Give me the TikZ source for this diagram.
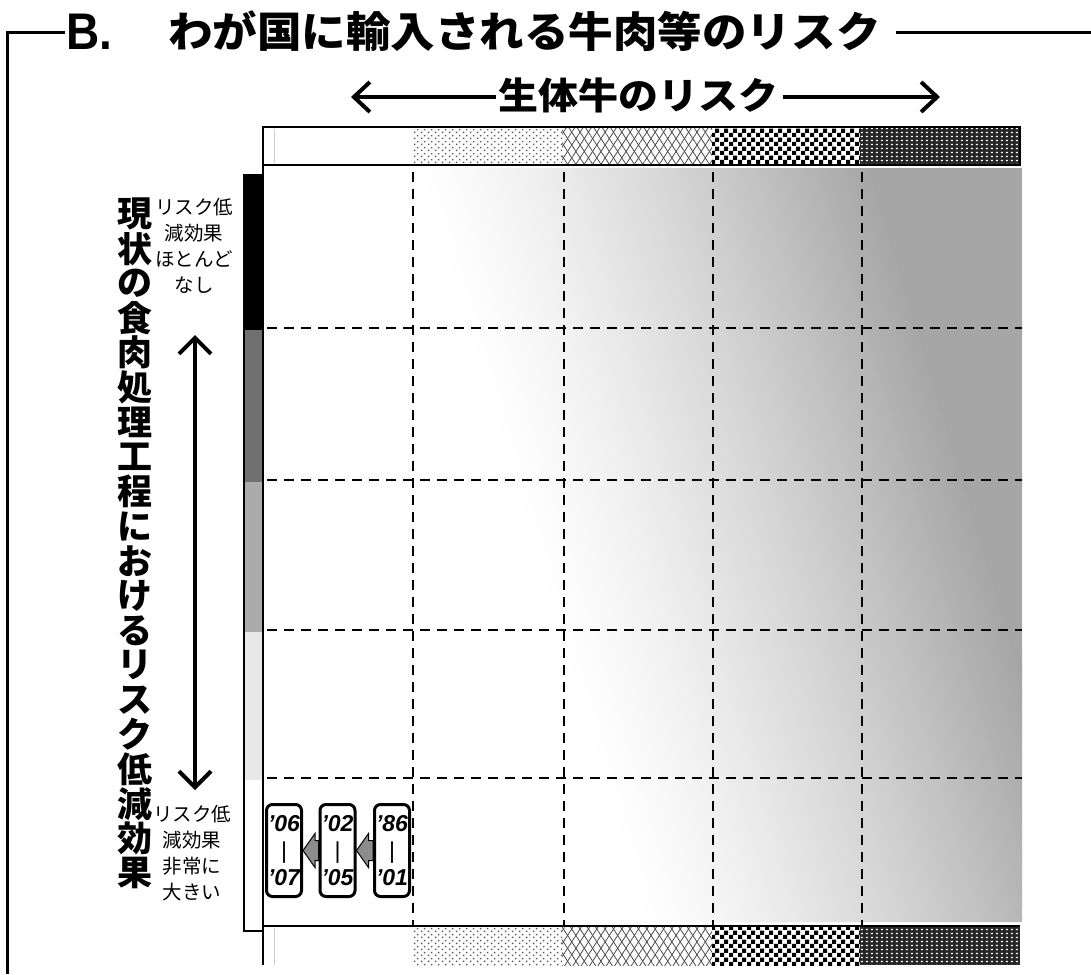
\documentclass[tikz,border=0pt]{standalone}
\usepackage{fontspec}
\newfontfamily\jp{Noto Sans CJK JP}
\newfontfamily\lat{Liberation Sans}
\usetikzlibrary{arrows.meta,patterns.meta,calc}

\tikzdeclarepattern{name=sparsedots, type=uncolored,
  bounding box={(0pt,0pt) and (7pt,6pt)}, tile size={(7pt,6pt)},
  code={\pgfpathrectangle{\pgfpoint{1pt}{1pt}}{\pgfpoint{1.7pt}{1.7pt}}%
        \pgfpathrectangle{\pgfpoint{4.5pt}{4pt}}{\pgfpoint{1.7pt}{1.7pt}}%
        \pgfusepath{fill}}}
\tikzdeclarepattern{name=checker, type=uncolored,
  bounding box={(0pt,0pt) and (9pt,9pt)}, tile size={(9pt,9pt)},
  code={\pgfpathrectangle{\pgfpointorigin}{\pgfpoint{4.5pt}{4.5pt}}%
        \pgfpathrectangle{\pgfpoint{4.5pt}{4.5pt}}{\pgfpoint{4.5pt}{4.5pt}}%
        \pgfusepath{fill}}}
\tikzdeclarepattern{name=finedots, type=uncolored,
  bounding box={(0pt,0pt) and (5pt,4pt)}, tile size={(5pt,4pt)},
  code={\pgfpathrectangle{\pgfpoint{1pt}{1pt}}{\pgfpoint{2.5pt}{1.6pt}}%
        \pgfusepath{fill}}}

\tikzset{
  griddash/.style={line width=2.4pt, dash pattern=on 10pt off 7pt},
  bigarr/.style={line width=4pt, {Straight Barb[length=16pt,width=32pt]}-{Straight Barb[length=16pt,width=32pt]}},
  onearr/.style={line width=4pt, -{Straight Barb[length=16pt,width=30pt]}},
  framel/.style={line width=3pt},
  lbl/.style={align=center, inner sep=0pt, font=\jp\fontsize{19.5}{26}\selectfont},
  vchar/.style={inner sep=0pt, font=\jp\bfseries\fontsize{35}{35}\selectfont},
  yrbox/.style={draw, line width=3pt, rounded corners=6pt, fill=white,
    minimum width=35pt, minimum height=92pt, inner sep=0pt, align=center,
    font=\lat\bfseries\itshape\fontsize{23}{27}\selectfont},
  blockarr/.style={fill=black!45, draw=black, line width=1pt},
  p1/.style={pattern=sparsedots, pattern color=black!65},
  p2a/.style={pattern={Lines[angle=57,distance=7pt,line width=0.8pt]}, pattern color=black!70},
  p2b/.style={pattern={Lines[angle=-57,distance=7pt,line width=0.8pt]}, pattern color=black!70},
  p3/.style={pattern=checker, pattern color=black},
  p4/.style={pattern=finedots, pattern color=white},
}

\begin{document}
\begin{tikzpicture}[x=1pt,y=-1pt]
\useasboundingbox (0,0) rectangle (1091,974);

% ---- gradient of the main field
\begin{scope}
\clip (263,168) rectangle (1022,922);
\foreach \i in {0,...,114}{
  \pgfmathsetmacro\u{413+4*\i}
  \pgfmathsetmacro\p{35*pow((4*\i+2)/457,1.3)}
  \fill[black!\p] (\u,168) -- ++(4.6,0) -- ++(226,754) -- ++(-4.6,0) -- cycle;
}
\fill[black!35] (872,168) -- (1100,168) -- (1100,922) -- (1098,922) -- cycle;
\end{scope}

% ---- dashed grid
\foreach \x in {413,564,713,862} \draw[griddash] (\x,172) -- (\x,926);
\foreach \y in {328,480,630,778} \draw[griddash] (267,\y) -- (1022,\y);

% ---- top bar
\fill[p1] (413,127) rectangle (562,165);
\fill[p2a] (562,127) rectangle (712,165);
\fill[p2b] (562,127) rectangle (712,165);
\fill[p3] (712,127) rectangle (860,165);
\fill[black!85] (860,127) rectangle (1020,165);
\fill[p4] (860,127) rectangle (1020,165);
\draw[black!20, line width=1pt] (274,129) -- (274,163);
\draw[line width=1.5pt] (263,127) rectangle (1020,165);

% ---- bottom bar
\fill[p1] (413,927) rectangle (562,965);
\fill[p2a] (562,927) rectangle (712,965);
\fill[p2b] (562,927) rectangle (712,965);
\fill[p3] (712,927) rectangle (860,965);
\fill[black!85] (860,927) rectangle (1020,965);
\fill[p4] (860,927) rectangle (1020,965);
\draw[black!20, line width=1pt] (274,928) -- (274,965);

% ---- frame lines of the field
\draw[line width=1.5pt] (263,165) -- (263,965);
\draw[line width=1.5pt] (263,926) -- (1020,926);

% ---- left scale bar
\fill[black] (244,175) rectangle (263,330);
\fill[black!56] (244,330) rectangle (263,482);
\fill[black!33] (244,482) rectangle (263,632);
\fill[black!9] (244,632) rectangle (263,780);
\draw[line width=1.5pt] (244,175) rectangle (263,931);

% ---- title and frame
\node[anchor=base west, inner sep=0pt, font=\lat\bfseries\fontsize{46}{48}\selectfont] (tB) at (66,50) {\scalebox{1}[1.12]{B.}};
\node[anchor=base west, inner sep=0pt, font=\jp\bfseries\fontsize{42}{48}\selectfont] (title) at (168,48) {\scalebox{1.06}[1]{わが国に輸入される牛肉等のリスク}};
\draw[framel] (7,974) -- (7,33) -- (65,33);
\draw[framel] (896,33) -- (1091,33);

% ---- horizontal risk arrow
\node[anchor=base, inner sep=0pt, font=\jp\bfseries\fontsize{37}{40}\selectfont] (sub) at (638.5,109) {\scalebox{1.08}[1]{生体牛のリスク}};
\coordinate (la) at (351,97);
\coordinate (ra) at (940,97);
\draw[onearr] ($(sub.west |- la)+(-2,0)$) -- (la);
\draw[onearr] ($(sub.east |- ra)+(4,0)$) -- (ra);

% ---- vertical big text
\foreach \c [count=\i from 0] in {現,状,の,食,肉,処,理,工,程,に,お,け,る,リ,ス,ク,低,減,効,果}
  \node[vchar] (v\i) at (135,{214+34.7*\i}) {\c};

% ---- vertical double arrow
\coordinate (ta) at (195,335);
\coordinate (ba) at (195,790);
\draw[bigarr] (ta) -- (ba);

% ---- small labels
\node[lbl] (ltop) at (194,246) {リスク低\\減効果\\ほとんど\\なし};
\node[lbl] (lbot) at (192,853) {リスク低\\減効果\\非常に\\大きい};

% ---- period boxes
\coordinate (b06c) at (284,850.5);
\coordinate (b02c) at (337.5,850.5);
\coordinate (b86c) at (392,850.5);

% ---- block arrows between boxes (drawn beneath the boxes)
\path (b06c) node[yrbox, draw=none, fill=none] (b06) {\phantom{’06}\\\phantom{|}\\\phantom{’07}};
\path (b02c) node[yrbox, draw=none, fill=none] (b02) {\phantom{’02}\\\phantom{|}\\\phantom{’05}};
\path (b86c) node[yrbox, draw=none, fill=none] (b86) {\phantom{’86}\\\phantom{|}\\\phantom{’01}};
\filldraw[blockarr] ($(b86.west)+(0,-10)$) -- ($(b02.east)+(12,-10)$) -- ($(b02.east)+(12,-17)$)
  -- ($(b02.east)+(0,0)$) -- ($(b02.east)+(12,17)$) -- ($(b02.east)+(12,10)$) -- ($(b86.west)+(0,10)$) -- cycle;
\filldraw[blockarr] ($(b02.west)+(0,-10)$) -- ($(b06.east)+(12,-10)$) -- ($(b06.east)+(12,-17)$)
  -- ($(b06.east)+(0,0)$) -- ($(b06.east)+(12,17)$) -- ($(b06.east)+(12,10)$) -- ($(b02.west)+(0,10)$) -- cycle;
\path (b06c) node[yrbox] {’06\\{\upshape\mdseries |}\\’07};
\path (b02c) node[yrbox] {’02\\{\upshape\mdseries |}\\’05};
\path (b86c) node[yrbox] {’86\\{\upshape\mdseries |}\\’01};
\end{tikzpicture}
\end{document}
